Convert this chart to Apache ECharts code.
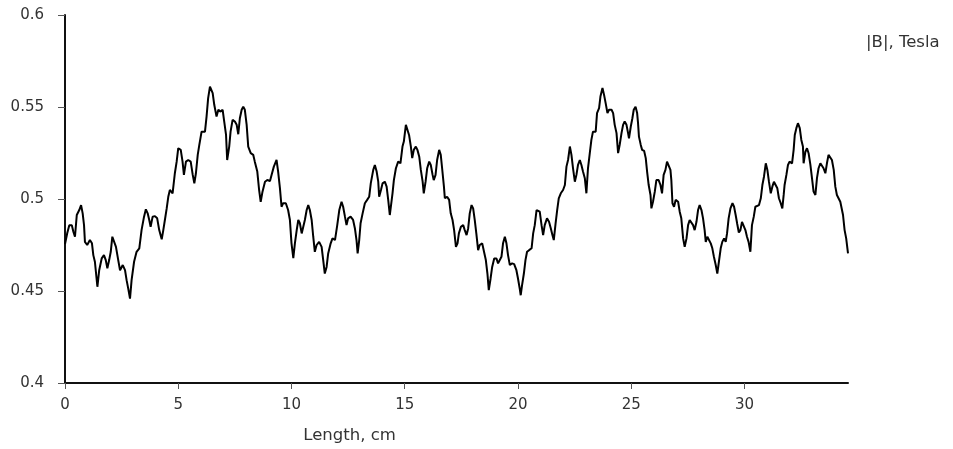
<!DOCTYPE html>
<html>
<head>
<meta charset="utf-8">
<title>|B| along length</title>
<script src="https://cdn.jsdelivr.net/npm/echarts@6/dist/echarts.min.js"></script>
<style>
  html, body { margin: 0; padding: 0; background: #fff; }
  #chart { width: 953px; height: 449px; }
</style>
</head>
<body>
<div id="chart"></div>
<script>
// Field magnitude |B| (Tesla) measured along the length (cm), split by 10 cm spans
const span0to10 = [
  [0.00,0.4755],[0.10,0.4815],[0.19,0.4858],[0.30,0.4858],[0.37,0.4822],[0.44,0.4795],[0.52,0.4913],[0.63,0.4940],[0.71,0.4967],[0.78,0.4922],
  [0.84,0.4858],[0.88,0.4767],[0.98,0.4750],[1.10,0.4777],[1.19,0.4759],[1.25,0.4695],[1.32,0.4659],[1.43,0.4523],[1.51,0.4613],[1.62,0.4677],
  [1.72,0.4695],[1.80,0.4668],[1.87,0.4623],[1.95,0.4668],[2.02,0.4713],[2.09,0.4795],[2.16,0.4786],[2.25,0.4740],[2.35,0.4668],[2.43,0.4613],
  [2.55,0.4641],[2.65,0.4613],[2.72,0.4559],[2.79,0.4514],[2.87,0.4459],[2.94,0.4559],[3.05,0.4659],[3.16,0.4713],[3.28,0.4732],[3.38,0.4831],
  [3.49,0.4904],[3.57,0.4944],[3.65,0.4922],[3.72,0.4886],[3.78,0.4849],[3.87,0.4904],[3.97,0.4907],[4.07,0.4895],[4.16,0.4831],[4.27,0.4781],
  [4.34,0.4831],[4.41,0.4886],[4.49,0.4949],[4.56,0.5012],[4.63,0.5049],[4.75,0.5031],[4.85,0.5140],[4.93,0.5203],[5.00,0.5276],[5.11,0.5267],
  [5.19,0.5203],[5.25,0.5131],[5.34,0.5203],[5.44,0.5212],[5.55,0.5203],[5.64,0.5131],[5.71,0.5085],[5.78,0.5140],[5.86,0.5240],[5.93,0.5294],
  [6.03,0.5366],[6.18,0.5366],[6.25,0.5448],[6.32,0.5548],[6.40,0.5611],[6.52,0.5575],[6.59,0.5512],[6.69,0.5448],[6.77,0.5485],[6.87,0.5475],
  [6.96,0.5485],[7.03,0.5421],[7.11,0.5348],[7.16,0.5212],[7.25,0.5285],[7.31,0.5366],[7.40,0.5430],[7.50,0.5421],[7.58,0.5403],[7.65,0.5352],
  [7.72,0.5439],[7.80,0.5485],[7.87,0.5502],[7.94,0.5485],[8.02,0.5403],[8.09,0.5285],[8.20,0.5249],[8.31,0.5240],[8.38,0.5203],[8.49,0.5149],
  [8.57,0.5049],[8.64,0.4985],[8.72,0.5040],[8.83,0.5094],[8.93,0.5103],[9.05,0.5098],[9.12,0.5131],[9.22,0.5176],[9.34,0.5212],[9.41,0.5149],
  [9.49,0.5058],[9.56,0.4958],[9.63,0.4977],[9.75,0.4977],[9.85,0.4940],[9.93,0.4886]
];
const span10to20 = [
  [10.00,0.4759],[10.08,0.4679],[10.15,0.4759],[10.23,0.4831],[10.30,0.4886],[10.37,0.4868],[10.45,0.4813],[10.52,0.4804],[10.59,0.4886],[10.67,0.4940],
  [10.74,0.4967],[10.81,0.4940],[10.89,0.4886],[10.96,0.4795],[11.03,0.4713],[11.11,0.4750],[11.22,0.4767],[11.33,0.4740],[11.40,0.4668],[11.47,0.4595],
  [11.55,0.4631],[11.62,0.4704],[11.73,0.4759],[11.81,0.4786],[11.92,0.4777],[12.02,0.4858],[12.11,0.4940],[12.21,0.4985],[12.28,0.4958],[12.36,0.4904],
  [12.43,0.4858],[12.50,0.4895],[12.61,0.4904],[12.72,0.4886],[12.80,0.4840],[12.87,0.4777],[12.92,0.4704],[12.99,0.4777],[13.05,0.4868],[13.14,0.4922],
  [13.24,0.4977],[13.34,0.4995],[13.43,0.5012],[13.50,0.5085],[13.61,0.5158],[13.68,0.5185],[13.76,0.5149],[13.83,0.5094],[13.87,0.5012],[13.95,0.5049],
  [14.02,0.5085],[14.12,0.5094],[14.20,0.5067],[14.27,0.4995],[14.34,0.4913],[14.39,0.4904],[14.46,0.5031],[14.52,0.5103],[14.61,0.5167],[14.71,0.5203],
  [14.81,0.5194],[14.90,0.5285],[14.96,0.5312],[15.05,0.5403],[15.12,0.5412],[15.19,0.5348],[15.27,0.5285],[15.33,0.5222],[15.40,0.5267],[15.49,0.5285],
  [15.56,0.5267],[15.64,0.5230],[15.71,0.5158],[15.79,0.5094],[15.84,0.5031],[15.92,0.5094],[15.99,0.5167],[16.08,0.5203],[16.15,0.5185],[16.23,0.5131],
  [16.28,0.5103],[16.36,0.5131],[16.43,0.5212],[16.52,0.5267],[16.59,0.5240],[16.65,0.5167],[16.73,0.5067],[16.77,0.5004],[16.87,0.5012],[16.96,0.4995],
  [17.03,0.4922],[17.11,0.4886],[17.18,0.4831],[17.26,0.4740],[17.33,0.4759],[17.39,0.4813],[17.48,0.4849],[17.58,0.4858],[17.65,0.4831],[17.73,0.4804],
  [17.80,0.4840],[17.87,0.4922],[17.95,0.4967],[18.02,0.4949],[18.09,0.4886],[18.16,0.4813],[18.24,0.4722],[18.31,0.4750],[18.42,0.4759],[18.50,0.4713],
  [18.58,0.4668],[18.65,0.4595],[18.71,0.4505],[18.79,0.4568],[18.86,0.4631],[18.95,0.4677],[19.05,0.4677],[19.12,0.4650],[19.20,0.4659],[19.27,0.4686],
  [19.34,0.4759],[19.42,0.4795],[19.49,0.4759],[19.56,0.4695],[19.64,0.4641],[19.74,0.4650],[19.83,0.4646],[19.93,0.4613]
];
const span20to30 = [
  [20.00,0.4568],[20.08,0.4510],[20.12,0.4477],[20.18,0.4532],[20.26,0.4595],[20.33,0.4668],[20.40,0.4713],[20.49,0.4722],[20.60,0.4732],[20.67,0.4813],
  [20.74,0.4858],[20.82,0.4940],[20.89,0.4949],[20.96,0.4931],[21.04,0.4858],[21.11,0.4804],[21.18,0.4858],[21.28,0.4895],[21.37,0.4876],[21.45,0.4840],
  [21.52,0.4804],[21.58,0.4777],[21.66,0.4868],[21.73,0.4940],[21.80,0.5004],[21.89,0.5031],[21.99,0.5049],[22.07,0.5076],[22.14,0.5176],[22.21,0.5212],
  [22.29,0.5285],[22.36,0.5240],[22.43,0.5167],[22.51,0.5094],[22.58,0.5131],[22.65,0.5185],[22.73,0.5212],[22.80,0.5185],[22.87,0.5149],[22.95,0.5113],
  [23.02,0.5031],[23.09,0.5167],[23.17,0.5249],[23.24,0.5321],[23.31,0.5366],[23.43,0.5366],[23.49,0.5467],[23.58,0.5494],[23.64,0.5557],[23.73,0.5603],
  [23.80,0.5566],[23.87,0.5521],[23.95,0.5467],[24.02,0.5485],[24.13,0.5485],[24.20,0.5467],[24.27,0.5403],[24.35,0.5358],[24.42,0.5249],[24.49,0.5294],
  [24.57,0.5358],[24.64,0.5403],[24.71,0.5421],[24.79,0.5403],[24.86,0.5358],[24.90,0.5330],[24.98,0.5394],[25.05,0.5439],[25.11,0.5485],[25.19,0.5502],
  [25.26,0.5467],[25.30,0.5412],[25.34,0.5339],[25.42,0.5294],[25.48,0.5267],[25.57,0.5261],[25.64,0.5222],[25.70,0.5149],[25.77,0.5076],[25.85,0.5022],
  [25.89,0.4949],[25.96,0.4985],[26.04,0.5040],[26.11,0.5103],[26.21,0.5103],[26.29,0.5076],[26.36,0.5031],[26.43,0.5131],[26.51,0.5158],[26.58,0.5203],
  [26.66,0.5194],[26.73,0.5158],[26.77,0.5103],[26.82,0.4977],[26.89,0.4958],[26.96,0.4995],[27.07,0.4985],[27.14,0.4931],[27.21,0.4895],[27.29,0.4786],
  [27.36,0.4740],[27.44,0.4786],[27.51,0.4858],[27.58,0.4886],[27.66,0.4876],[27.73,0.4858],[27.80,0.4831],[27.88,0.4876],[27.95,0.4940],[28.02,0.4967],
  [28.10,0.4940],[28.17,0.4895],[28.24,0.4831],[28.29,0.4767],[28.36,0.4795],[28.43,0.4786],[28.51,0.4759],[28.58,0.4732],[28.65,0.4686],[28.73,0.4641],
  [28.80,0.4595],[28.87,0.4659],[28.95,0.4732],[29.02,0.4767],[29.10,0.4786],[29.17,0.4767],[29.23,0.4813],[29.30,0.4895],[29.38,0.4949],[29.47,0.4977],
  [29.54,0.4958],[29.61,0.4913],[29.68,0.4864],[29.75,0.4818],[29.82,0.4831],[29.89,0.4876],[29.96,0.4886]
];
const span30toEnd = [
  [30.04,0.4831],[30.11,0.4795],[30.18,0.4767],[30.26,0.4713],[30.33,0.4858],[30.41,0.4904],[30.48,0.4958],[30.55,0.4967],[30.64,0.4967],[30.72,0.5004],
  [30.79,0.5076],[30.86,0.5121],[30.94,0.5194],[31.01,0.5158],[31.08,0.5094],[31.16,0.5031],[31.23,0.5067],[31.30,0.5094],[31.38,0.5085],[31.45,0.5058],
  [31.52,0.5004],[31.60,0.4977],[31.67,0.4949],[31.73,0.5022],[31.77,0.5076],[31.85,0.5131],[31.92,0.5185],[31.99,0.5203],[32.10,0.5194],[32.17,0.5267],
  [32.22,0.5348],[32.29,0.5385],[32.36,0.5412],[32.44,0.5385],[32.51,0.5321],[32.58,0.5285],[32.61,0.5194],[32.69,0.5257],[32.76,0.5276],[32.83,0.5249],
  [32.91,0.5185],[32.98,0.5113],[33.05,0.5040],[33.13,0.5022],[33.20,0.5113],[33.27,0.5167],[33.35,0.5194],[33.42,0.5185],[33.49,0.5167],[33.57,0.5140],
  [33.64,0.5194],[33.71,0.5240],[33.79,0.5249],[33.86,0.5212],[33.94,0.5158],[34.01,0.5067],[34.08,0.5022],[34.16,0.5012],[34.23,0.4985],[34.30,0.4977],
  [34.35,0.4913],[34.42,0.4831],[34.49,0.4786],[34.57,0.4704]
];

// Axis ticks
const lengthTicks = [0, 5, 10, 15, 20, 25, 30];
const lengthMax = 34.57;
const fieldMin = 0.4, fieldMax = 0.6, fieldStep = 0.05;

const fieldProfile = [].concat(span0to10, span10to20, span20to30, span30toEnd);

const FONT = 'DejaVu Sans';
const chart = echarts.init(document.getElementById('chart'), null, { renderer: 'canvas' });

chart.setOption({
  animation: false,
  backgroundColor: '#ffffff',
  title: {
    text: '|B|, Tesla',
    left: 866,
    top: 34,
    padding: 0,
    textStyle: { fontFamily: FONT, fontSize: 16.5, fontWeight: 'normal', color: '#333' }
  },
  grid: { left: 65, right: 105, top: 15, bottom: 66, containLabel: false },
  xAxis: {
    type: 'value',
    min: 0,
    max: lengthMax,
    interval: 5,
    name: 'Length, cm',
    nameLocation: 'middle',
    nameGap: 44,
    nameTextStyle: {
      fontFamily: FONT, fontSize: 16.5, color: '#333',
      padding: [0, 214, 0, 0]
    },
    axisLine: { show: true, lineStyle: { color: '#111', width: 2 } },
    axisTick: { show: true, length: 6, customValues: lengthTicks, lineStyle: { color: '#555', width: 1 } },
    axisLabel: { customValues: lengthTicks, margin: 15, fontFamily: FONT, fontSize: 15, color: '#333' },
    splitLine: { show: false }
  },
  yAxis: {
    type: 'value',
    min: fieldMin,
    max: fieldMax,
    interval: fieldStep,
    axisLine: { show: true, lineStyle: { color: '#111', width: 2 } },
    axisTick: { show: true, length: 7, lineStyle: { color: '#555', width: 1 } },
    axisLabel: { margin: 21, fontFamily: FONT, fontSize: 15, color: '#333' },
    splitLine: { show: false }
  },
  series: [{
    type: 'line',
    data: fieldProfile,
    showSymbol: false,
    symbol: 'none',
    smooth: false,
    lineStyle: { color: '#000', width: 2 }
  }]
});
</script>
</body>
</html>
